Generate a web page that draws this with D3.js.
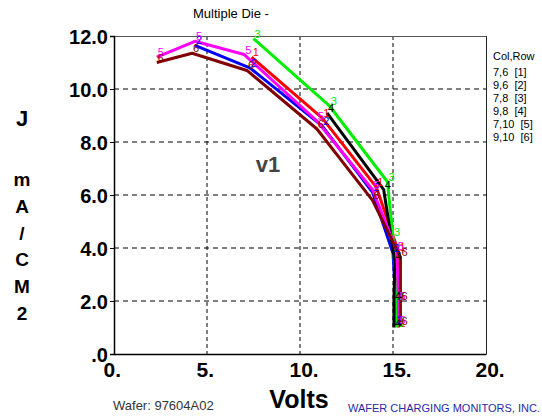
<!DOCTYPE html>
<html>
<head>
<meta charset="utf-8">
<script src="https://cdn.jsdelivr.net/npm/d3@7"></script>
<style>
  body { margin: 0; background: #fff; }
  text { font-family: Arial, "Liberation Sans", sans-serif; }
</style>
</head>
<body>
<svg id="chart" width="542" height="420"></svg>
<script>
// values
const xTicks = [0, 5, 10, 15, 20];
const xTickLabels = ["0.", "5.", "10.", "15.", "20."];
const yTicks = [0, 2, 4, 6, 8, 10, 12];
const yTickLabels = [".0", "2.0", "4.0", "6.0", "8.0", "10.0", "12.0"];

const seriesNames = ["1", "2", "3", "4", "5", "6"];
const seriesColors = ["#ff0000", "#0000ff", "#00ee00", "#000000", "#ff00ff", "#800000"];
const legendLabels = ["7,6  [1]", "9,6  [2]", "7,8  [3]", "9,8  [4]", "7,10  [5]", "9,10  [6]"];

// volts / current density for each die
const volts1 = [7.4, 11.2, 14.1, 15.3, 15.3, 15.3];
const amps1  = [11.2, 8.9, 6.3, 3.85, 2.0, 1.0];
const volts2 = [4.35, 7.3, 11.2, 13.9, 15.0, 15.15, 15.15];
const amps2  = [11.65, 10.8, 8.6, 6.1, 3.8, 2.0, 1.1];
const volts3 = [7.5, 11.6, 14.7, 15.0, 15.2, 15.2];
const amps3  = [11.9, 9.35, 6.5, 4.4, 2.0, 1.0];
const volts4 = [11.45, 14.5, 15.1, 15.05, 15.05];
const amps4  = [9.1, 6.2, 3.5, 2.0, 1.0];
const volts5 = [2.3, 4.35, 7.0, 10.9, 13.9, 15.2, 15.3, 15.3];
const amps5  = [11.2, 11.8, 11.3, 8.8, 6.2, 3.9, 2.0, 1.1];
const volts6 = [2.3, 4.2, 7.15, 10.9, 13.9, 15.4, 15.4, 15.4];
const amps6  = [11.0, 11.35, 10.7, 8.5, 5.8, 3.65, 2.0, 1.05];

const allVolts = [volts1, volts2, volts3, volts4, volts5, volts6];
const allAmps = [amps1, amps2, amps3, amps4, amps5, amps6];

const svg = d3.select("#chart");
const pLeft = 114, pRight = 486, pTop = 36, pBottom = 354;

const x = d3.scaleLinear().domain([0, 20]).range([pLeft, pRight]);
const y = d3.scaleLinear().domain([0, 12]).range([pBottom, pTop]);

// grid
svg.append("g").selectAll("line")
  .data(xTicks.slice(1, -1))
  .enter().append("line")
  .attr("x1", d => x(d)).attr("x2", d => x(d))
  .attr("y1", pTop).attr("y2", pBottom)
  .attr("stroke", "#000").attr("stroke-width", 1)
  .attr("stroke-dasharray", "4,3");

svg.append("g").selectAll("line")
  .data(yTicks.slice(1, -1))
  .enter().append("line")
  .attr("x1", pLeft).attr("x2", pRight)
  .attr("y1", d => y(d)).attr("y2", d => y(d))
  .attr("stroke", "#000").attr("stroke-width", 1)
  .attr("stroke-dasharray", "5,4");

// frame
svg.append("line").attr("x1", pLeft).attr("x2", pRight).attr("y1", pTop + 0.5).attr("y2", pTop + 0.5)
  .attr("stroke", "#555");
svg.append("line").attr("x1", pRight + 0.5).attr("x2", pRight + 0.5).attr("y1", pTop).attr("y2", pBottom)
  .attr("stroke", "#222");

const yAxis = d3.axisLeft(y).tickValues(yTicks).tickSize(4).tickFormat((d, i) => yTickLabels[i]);
const yg = svg.append("g").attr("transform", `translate(${pLeft},0)`).call(yAxis);
yg.selectAll("text").style("font-size", "20px").style("font-weight", "bold").attr("dy", "0.36em").attr("x", -6);

const xAxis = d3.axisBottom(x).tickValues(xTicks).tickSize(0).tickFormat((d, i) => xTickLabels[i]);
const xg = svg.append("g").attr("transform", `translate(0,${pBottom})`).call(xAxis);
xg.selectAll("text").style("font-size", "21px").style("font-weight", "bold")
  .attr("text-anchor", "start").attr("x", -11).attr("y", 23).attr("dy", null);
[yg, xg].forEach(g => {
  g.select(".domain").attr("stroke", "#000").attr("stroke-width", 1.5);
  g.selectAll("line").attr("stroke", "#000");
  g.selectAll("text").attr("fill", "#000");
});

// curves
const line = d3.line().x(d => x(d[0])).y(d => y(d[1]));
allVolts.forEach((vs, s) => {
  const pts = vs.map((v, i) => [v, allAmps[s][i]]);
  svg.append("path")
    .datum(pts)
    .attr("d", line)
    .attr("fill", "none")
    .attr("stroke", seriesColors[s])
    .attr("stroke-width", 3)
    .attr("stroke-linejoin", "round");
});
allVolts.forEach((vs, s) => {
  svg.append("g").selectAll("text")
    .data(vs.map((v, i) => [v, allAmps[s][i]]))
    .enter().append("text")
    .attr("x", d => x(d[0]) + 1)
    .attr("y", d => y(d[1]) - 1)
    .attr("fill", seriesColors[s])
    .style("font-size", "11px")
    .text(seriesNames[s]);
});

// texts
svg.append("text").attr("x", 193).attr("y", 18)
  .style("font-size", "13px").text("Multiple Die -");

svg.append("text").attr("x", 268).attr("y", 172).attr("text-anchor", "middle")
  .style("font-size", "22px").style("font-weight", "bold").attr("fill", "#444").text("v1");

svg.append("text").attr("x", 22).attr("y", 126).attr("text-anchor", "middle")
  .style("font-size", "22px").style("font-weight", "bold").text("J");
const yUnit = ["m", "A", "/", "C", "M", "2"];
svg.append("g").selectAll("text").data(yUnit).enter().append("text")
  .attr("x", 22).attr("y", (d, i) => 186 + i * 26.8).attr("text-anchor", "middle")
  .style("font-size", "19px").style("font-weight", "bold").text(d => d);

svg.append("text").attr("x", 299).attr("y", 408).attr("text-anchor", "middle")
  .style("font-size", "25px").style("font-weight", "bold").text("Volts");

svg.append("text").attr("x", 113).attr("y", 410)
  .style("font-size", "13px").attr("fill", "#333").text("Wafer: 97604A02");

svg.append("text").attr("x", 348).attr("y", 412)
  .style("font-size", "11px").attr("fill", "#2a2aa8").text("WAFER CHARGING MONITORS, INC.");

// legend
svg.append("text").attr("x", 493).attr("y", 60).style("font-size", "11px").text("Col,Row");
svg.append("g").selectAll("text").data(legendLabels).enter().append("text")
  .attr("x", 493).attr("y", (d, i) => 76 + i * 13)
  .style("font-size", "11px").style("white-space", "pre").attr("xml:space", "preserve").text(d => d);
</script>
</body>
</html>
